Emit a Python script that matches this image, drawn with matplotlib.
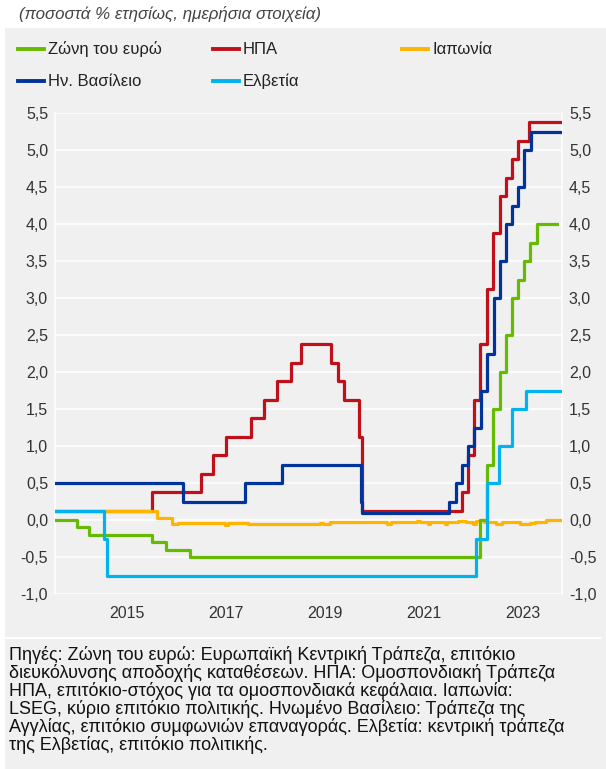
import matplotlib.pyplot as plt
from matplotlib.lines import Line2D
from matplotlib.patches import Rectangle

plt.rcParams['font.family'] = ['Liberation Sans', 'DejaVu Sans']

# policy rates, % (decimal years, step changes)
eu_t = [2014.00, 2014.44, 2014.69, 2015.96, 2016.24, 2016.73, 2022.59, 2022.72, 2022.85,
        2022.99, 2023.10, 2023.23, 2023.35, 2023.47, 2023.60, 2023.73, 2024.14]
eu_v = [0.00, -0.10, -0.20, -0.30, -0.40, -0.50, 0.00, 0.75, 1.50,
        2.00, 2.50, 3.00, 3.25, 3.50, 3.75, 4.00, 4.00]

us_t = [2014.00, 2015.96, 2016.95, 2017.20, 2017.45, 2017.95, 2018.22, 2018.49, 2018.77,
        2018.97, 2019.58, 2019.71, 2019.83, 2020.15, 2020.20, 2022.22, 2022.35, 2022.46,
        2022.59, 2022.73, 2022.85, 2022.98, 2023.10, 2023.23, 2023.35, 2023.58, 2024.24]
us_v = [0.125, 0.375, 0.625, 0.875, 1.125, 1.375, 1.625, 1.875, 2.125,
        2.375, 2.125, 1.875, 1.625, 1.125, 0.125, 0.375, 0.875, 1.625,
        2.375, 3.125, 3.875, 4.375, 4.625, 4.875, 5.125, 5.375, 5.375]

uk_t = [2014.00, 2016.59, 2017.84, 2018.59, 2020.19, 2020.21, 2021.96, 2022.10, 2022.22,
        2022.35, 2022.46, 2022.60, 2022.73, 2022.86, 2022.98, 2023.10, 2023.23, 2023.35,
        2023.47, 2023.61, 2024.24]
uk_v = [0.50, 0.25, 0.50, 0.75, 0.25, 0.10, 0.25, 0.50, 0.75,
        1.00, 1.25, 1.75, 2.25, 3.00, 3.50, 4.00, 4.25, 4.50,
        5.00, 5.25, 5.25]

ch_t = [2014.00, 2014.99, 2015.05, 2022.50, 2022.73, 2022.97, 2023.23, 2023.52, 2024.24]
ch_v = [0.125, -0.25, -0.75, -0.25, 0.50, 1.00, 1.50, 1.75, 1.75]

jp_t = [2014.00, 2016.06, 2016.36, 2016.48, 2017.43, 2017.50, 2017.90, 2018.90, 2018.96,
        2019.35, 2019.42, 2019.55, 2020.71, 2020.78, 2021.31, 2021.37, 2021.54, 2021.58,
        2021.88, 2021.92, 2022.14, 2022.30, 2022.44, 2022.50, 2022.59, 2022.67, 2022.91,
        2023.03, 2023.39, 2023.60, 2023.70, 2023.92, 2024.24]
jp_v = [0.12, 0.03, -0.06, -0.045, -0.065, -0.045, -0.06, -0.05, -0.06,
        -0.045, -0.06, -0.03, -0.05, -0.03, -0.015, -0.03, -0.05, -0.03,
        -0.05, -0.03, -0.015, -0.03, -0.05, -0.02, -0.005, -0.025, -0.06,
        -0.03, -0.055, -0.045, -0.03, -0.005, -0.005]

year_labels = ['2015', '2017', '2019', '2021', '2023']
y_ticks = [-1.0, -0.5, 0.0, 0.5, 1.0, 1.5, 2.0, 2.5, 3.0, 3.5, 4.0, 4.5, 5.0, 5.5]

names = ['Ζώνη του ευρώ', 'ΗΠΑ', 'Ιαπωνία', 'Ην. Βασίλειο', 'Ελβετία']
colors = {'eu': '#66BB00', 'us': '#C0101A', 'jp': '#FFB400', 'uk': '#00349A', 'ch': '#00B2EE'}

BG = '#F0F0F0'
W, H = 606, 769

fig = plt.figure(figsize=(W / 100, H / 100), dpi=100)
fig.patch.set_facecolor('white')
fig.add_artist(Rectangle((5 / W, 0), 1, 1 - 28 / H, transform=fig.transFigure,
                         facecolor=BG, edgecolor='none', zorder=0))
fig.add_artist(Line2D([5 / W, 600 / W], [1 - 638 / H] * 2, transform=fig.transFigure,
                      color='white', lw=1.5))

ax = fig.add_axes([55 / W, 1 - 594 / H, (562 - 55) / W, (594 - 113) / H])
ax.set_facecolor(BG)

lw = 2.3
ax.step(us_t, us_v, where='post', color=colors['us'], lw=lw, zorder=3)
ax.step(jp_t, jp_v, where='post', color=colors['jp'], lw=lw, zorder=4)
ax.step(eu_t, eu_v, where='post', color=colors['eu'], lw=lw, zorder=5)
ax.step(uk_t, uk_v, where='post', color=colors['uk'], lw=lw, zorder=6)
ax.step(ch_t, ch_v, where='post', color=colors['ch'], lw=lw, zorder=7)

ax.set_xlim(2014.0, 2024.24)
ax.set_ylim(-1.0, 5.5)
ax.set_yticks(y_ticks)
ax.set_yticklabels([f'{v:.1f}'.replace('.', ',') for v in y_ticks])
ax.set_xticks([int(y) + 0.45 for y in year_labels])
ax.set_xticklabels(year_labels)
ax.tick_params(axis='both', length=0, labelsize=11.5, colors='#333333')
ax.tick_params(axis='y', pad=5, labelright=True, right=True)
ax.tick_params(axis='x', pad=9)
ax.grid(axis='y', color='white', lw=1.1, zorder=1)
ax.set_axisbelow(True)
for side in ['left', 'right']:
    ax.spines[side].set_color('white')
    ax.spines[side].set_linewidth(1.1)
for side in ['top', 'bottom']:
    ax.spines[side].set_visible(False)

# title
fig.text(19 / W, 1 - 14 / H, '(ποσοστά % ετησίως, ημερήσια στοιχεία)', fontsize=12.2,
         style='italic', color='#444444', va='center', ha='left')

# legend drawn by hand to match the layout
leg = [(18, 49, names[0], colors['eu']), (213, 49, names[1], colors['us']),
       (402, 49, names[2], colors['jp']), (18, 81, names[3], colors['uk']),
       (213, 81, names[4], colors['ch'])]
for x0, y0, txt, c in leg:
    fig.add_artist(Line2D([x0 / W, (x0 + 26) / W], [1 - y0 / H] * 2,
                          transform=fig.transFigure, color=c, lw=2.8))
    fig.text((x0 + 30) / W, 1 - y0 / H, txt, fontsize=12, color='#222222',
             va='center', ha='left')

source = ("Πηγές: Ζώνη του ευρώ: Ευρωπαϊκή Κεντρική Τράπεζα, επιτόκιο\n"
          "διευκόλυνσης αποδοχής καταθέσεων. ΗΠΑ: Ομοσπονδιακή Τράπεζα\n"
          "ΗΠΑ, επιτόκιο-στόχος για τα ομοσπονδιακά κεφάλαια. Ιαπωνία:\n"
          "LSEG, κύριο επιτόκιο πολιτικής. Ηνωμένο Βασίλειο: Τράπεζα της\n"
          "Αγγλίας, επιτόκιο συμφωνιών επαναγοράς. Ελβετία: κεντρική τράπεζα\n"
          "της Ελβετίας, επιτόκιο πολιτικής.")
fig.text(9 / W, 1 - 646 / H, source, fontsize=13, color='#111111',
         va='top', ha='left', linespacing=1.0)

fig.savefig('out.png', dpi=100, facecolor=fig.get_facecolor())
